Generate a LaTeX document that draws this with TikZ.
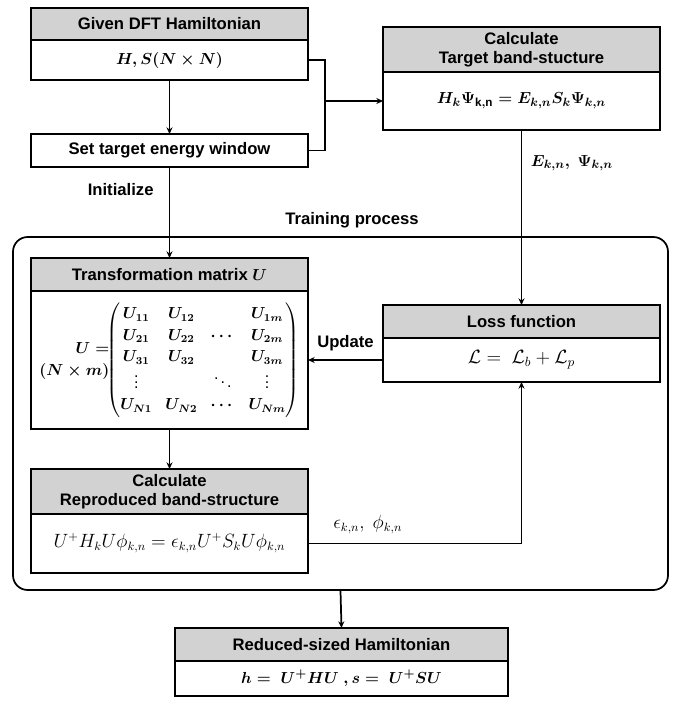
\documentclass[tikz,border=0pt]{standalone}
\usepackage{amsmath}
\usepackage{amssymb}
\usepackage{fontspec}
\setmainfont{Liberation Sans}
\usetikzlibrary{arrows.meta, positioning}

\begin{document}
\begin{tikzpicture}[
    x=0.75pt, y=-0.75pt,
    head/.style={draw, fill=gray!35, line width=1.3pt, outer sep=0pt, inner sep=2pt, minimum width=207.75pt, align=center, font=\fontsize{12.5}{14}\selectfont\bfseries\boldmath},
    body/.style={draw, fill=white, line width=1.3pt, outer sep=0pt, inner sep=2pt, minimum width=207.75pt, align=center, font=\fontsize{12.5}{15}\selectfont},
    lbl/.style={font=\fontsize{12.5}{15}\selectfont\bfseries\boldmath},
    link/.style={line width=1.3pt},
    >={Stealth[length=5pt,width=4.5pt]}
  ]
  \useasboundingbox (0,0) rectangle (684,704);

  % training loop frame
  \node[draw, line width=1.3pt, rounded corners=11pt, minimum width=491.25pt, minimum height=264.75pt] (train) at (340.5,413.5) {};
  \node[lbl] (trainlbl) at (352,220) {Training process};

  % input side
  \node[head, minimum height=24pt] (dfth) at (169.5,24) {Given DFT Hamiltonian};
  \node[body, minimum height=30pt, font=\fontsize{12.5}{15}\selectfont\boldmath] (dftb) [below=0pt of dfth] {$H, S(N\times N)$};
  \node[body, minimum height=24.75pt, font=\fontsize{12.5}{15}\selectfont\bfseries] (window) at (169.5,150.5) {Set target energy window};

  \node[head, minimum height=33.75pt] (tgth) at (521.5,49.5) {Calculate\\Target band-stucture};
  \node[body, minimum height=43.5pt, font=\fontsize{12.5}{15}\selectfont\boldmath] (tgtb) [below=0pt of tgth] {$H_k\Psi_{\mathrm{k,n}} = E_{k,n}S_k\Psi_{k,n}$};

  % inside the loop
  \node[head, minimum height=24.75pt] (trh) at (169.5,274.5) {Transformation matrix $U$};
  \node[body, minimum height=103.5pt, font=\fontsize{12}{14}\selectfont\boldmath] (trb) [below=0pt of trh] {%
    \renewcommand{\arraystretch}{1.15}%
    \begin{tabular}{@{}r@{}}$U=$\\$(N\times m)$\end{tabular}$\!\begin{pmatrix}
      U_{11} & U_{12} & & U_{1m}\\
      U_{21} & U_{22} & \cdots & U_{2m}\\
      U_{31} & U_{32} & & U_{3m}\\
      \vdots & & \ddots & \vdots\\
      U_{N1} & U_{N2} & \cdots & U_{Nm}
    \end{pmatrix}$};

  \node[head, minimum height=24.75pt] (lossh) at (521.5,321.5) {Loss function};
  \node[body, minimum height=33pt, font=\fontsize{14}{16}\selectfont] (lossb) [below=0pt of lossh] {$\mathcal{L} =\ \mathcal{L}_b + \mathcal{L}_p$};

  \node[head, minimum height=33.75pt] (reph) at (169.5,491.5) {Calculate\\Reproduced band-structure};
  \node[body, minimum height=44.25pt, font=\fontsize{13.5}{16}\selectfont] (repb) [below=0pt of reph] {$U^{+}H_kU\phi_{k,n} = \epsilon_{k,n}U^{+}S_kU\phi_{k,n}$};

  % result
  \node[head, minimum height=24.75pt, minimum width=249.75pt] (redh) at (341.5,644.5) {Reduced-sized Hamiltonian};
  \node[body, minimum height=26.25pt, minimum width=249.75pt, font=\fontsize{12.5}{15}\selectfont\boldmath] (redb) [below=0pt of redh] {$h =\ U^{+}HU\ , s =\ U^{+}SU$};

  % connectors
  \coordinate (join) at (325,101);
  \draw[link] (dftb.east) -| (join) |- (window.east);
  \draw[link, ->] (join) -- (tgtb.west);
  \draw[link, ->] (dftb.south) -- (window.north);
  \draw[link, ->] (window.south) -- node[lbl, left=8pt, pos=0.25] {Initialize} (trh.north);
  \draw[link, ->] (tgtb.south) -- node[lbl, right=3pt, pos=0.19] {$E_{k,n},\ \Psi_{k,n}$} (lossh.north);
  \draw[link, ->] (lossb.west) -- node[lbl, above=3pt] {Update} (trb.east);
  \draw[link, ->] (trb.south) -- (reph.north);
  \draw[link, ->] (repb.east) -| node[above=3pt, pos=0.14, font=\fontsize{13.5}{16}\selectfont] {$\epsilon_{k,n},\ \phi_{k,n}$} (lossb.south);
  \draw[link, ->] (train.south) -- (redh.north);
\end{tikzpicture}
\end{document}
